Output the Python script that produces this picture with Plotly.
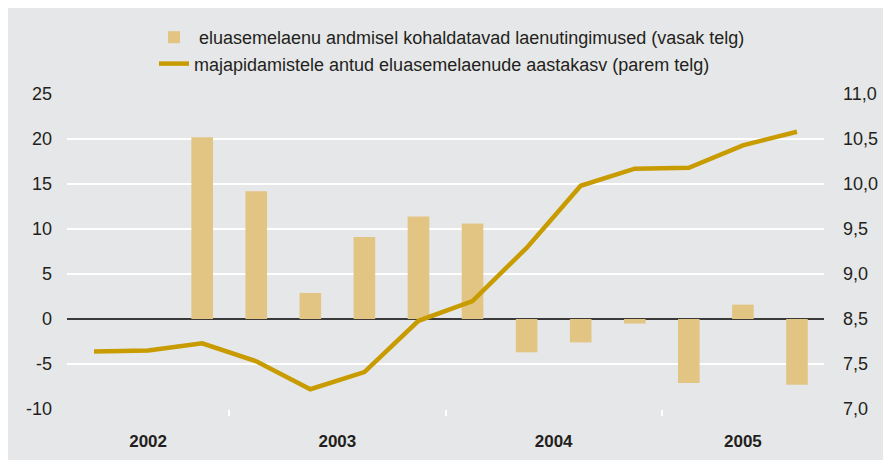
import plotly.graph_objects as go

# 14 quarters: 2002 Q2 ... 2005 Q3
QUARTERS = ["2002 Q2", "2002 Q3", "2002 Q4",
            "2003 Q1", "2003 Q2", "2003 Q3", "2003 Q4",
            "2004 Q1", "2004 Q2", "2004 Q3", "2004 Q4",
            "2005 Q1", "2005 Q2", "2005 Q3"]
YEARS = ["2002", "2003", "2004", "2005"]

# bars: lending conditions (left axis)
CONDITIONS = [None, None, 20.2, 14.2, 2.9, 9.1, 11.4, 10.6,
              -3.7, -2.6, -0.5, -7.1, 1.6, -7.3]
# line: annual growth of housing loans (right axis)
GROWTH = [8.14, 8.15, 8.23, 8.03, 7.72, 7.91, 8.48, 8.70,
          9.29, 9.98, 10.17, 10.18, 10.43, 10.58]

LEFT_TICK_VALS = [-10, -5, 0, 5, 10, 15, 20, 25]
LEFT_TICK_LABELS = ["-10", "-5", "0", "5", "10", "15", "20", "25"]
RIGHT_TICK_VALS = [7.5, 8.0, 8.5, 9.0, 9.5, 10.0, 10.5, 11.0]
RIGHT_TICK_LABELS = ["7,0", "7,5", "8,5", "9,0", "9,5", "10,0", "10,5", "11,0"]

NAME_BARS = "\u00a0eluasemelaenu andmisel kohaldatavad laenutingimused (vasak telg)"
NAME_LINE = "majapidamistele antud eluasemelaenude aastakasv (parem telg)"

x = list(range(1, len(QUARTERS) + 1))
year_of = [q.split()[0] for q in QUARTERS]
year_centers = []
separators = []
for yr in YEARS:
    idx = [i for i, y in zip(x, year_of) if y == yr]
    year_centers.append(sum(idx) / len(idx))
    if yr != YEARS[-1]:
        separators.append(max(idx) + 0.5)

FONT = "Liberation Sans, Arial, sans-serif"
TXT = "#231f20"
BG = "#e6e7e8"

fig = go.Figure()
fig.add_trace(go.Bar(x=x, y=CONDITIONS, name=NAME_BARS,
                     marker=dict(color="#e2c583", line=dict(width=0)),
                     yaxis="y"))
fig.add_trace(go.Scatter(x=x, y=GROWTH, name=NAME_LINE, mode="lines",
                         line=dict(color="#c89b00", width=4.5),
                         yaxis="y2"))

W, H = 891, 460
ml, mr, mt, mb = 59, 75, 86, 59
pw, ph = W - ml - mr, H - mt - mb

def px(xp):
    return (xp - ml) / pw

def py(yp):
    return (H - mb - yp) / ph

fig.update_layout(
    width=W, height=H,
    margin=dict(l=ml, r=mr, t=mt, b=mb, pad=0, autoexpand=False),
    paper_bgcolor=BG,
    plot_bgcolor=BG,
    font=dict(family=FONT, color=TXT, size=18),
    bargap=0.6,
    xaxis=dict(range=[0.5, len(QUARTERS) + 0.5], showgrid=False, zeroline=False,
               tickmode="array", tickvals=year_centers,
               ticktext=["<b>%s</b>" % y for y in YEARS],
               ticks="", tickfont=dict(size=17, color=TXT),
               ticklabelstandoff=20, automargin=False,
               minor=dict(tickmode="array", tickvals=separators, ticks="outside",
                          ticklen=6, tickwidth=2, tickcolor="white", showgrid=False),
               showline=False),
    yaxis=dict(range=[-10, 25], tickmode="array", tickvals=LEFT_TICK_VALS,
               ticktext=LEFT_TICK_LABELS, showgrid=True,
               gridcolor="white", gridwidth=2, zeroline=True,
               zerolinecolor="#3a3a3a", zerolinewidth=1.5, automargin=False,
               ticks="", ticklabelstandoff=14, tickfont=dict(size=18, color=TXT)),
    yaxis2=dict(range=[7.5, 11.0], overlaying="y", side="right",
                tickmode="array", tickvals=RIGHT_TICK_VALS, ticktext=RIGHT_TICK_LABELS,
                showgrid=False, zeroline=False, ticks="", ticklabelstandoff=18,
                automargin=False, tickfont=dict(size=18, color=TXT)),
    legend=dict(orientation="v", x=px(146), y=py(11), xanchor="left", yanchor="top",
                bgcolor="rgba(0,0,0,0)", font=dict(size=18, color=TXT),
                tracegroupgap=0, itemwidth=30),
    showlegend=True,
)

fig.write_html("out.html")
